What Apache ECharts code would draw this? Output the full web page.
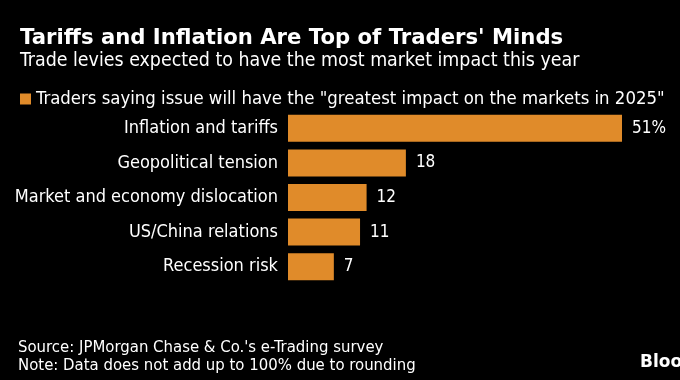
<!DOCTYPE html>
<html><head><meta charset="utf-8">
<script src="https://cdn.jsdelivr.net/npm/echarts@6/dist/echarts.min.js"></script>
<style>html,body{margin:0;padding:0;background:#000;}#c{width:680px;height:380px;}</style>
</head><body><div id="c"></div>
<script>
const categories = ["Inflation and tariffs", "Geopolitical tension", "Market and economy dislocation", "US/China relations", "Recession risk"];
const values = [51, 18, 12, 11, 7];
const seriesName = 'Traders saying issue will have the "greatest impact on the markets in 2025"';
const titleText = "Tariffs and Inflation Are Top of Traders' Minds";
const subtitleText = "Trade levies expected to have the most market impact this year";
const sourceText = "Source: JPMorgan Chase & Co.'s e-Trading survey";
const noteText = "Note: Data does not add up to 100% due to rounding";

const F = "'DejaVu Sans Condensed', 'DejaVu Sans', sans-serif";
const FB = "'DejaVu Sans', sans-serif";
const chart = echarts.init(document.getElementById('c'), null, {renderer:'canvas'});
chart.setOption({
  backgroundColor: '#000',
  animation: false,
  title: [
    {text: titleText, left: 15, top: 23, textStyle: {color:'#fff', fontFamily: FB, fontWeight:'bold', fontSize: 21.2}},
    {text: subtitleText, left: 15, top: 46, textStyle: {color:'#fff', fontFamily: F, fontWeight:'normal', fontSize: 19.4}},
    {text: sourceText + "\n" + noteText, left: 13, top: 334, textStyle: {color:'#fff', fontFamily: F, fontWeight:'normal', fontSize: 16.6, lineHeight: 18}},
    {text: "Bloomberg", left: 635, top: 349, textStyle: {color:'#fff', fontFamily: FB, fontWeight:'bold', fontSize: 17}}
  ],
  legend: {
    data: [seriesName], left: 15, top: 85, icon: 'rect', itemWidth: 11, itemHeight: 11, itemGap: 6,
    textStyle: {color:'#fff', fontFamily: F, fontSize: 18.4}
  },
  grid: {left: 288, right: 58, top: 111, height: 173, containLabel: false},
  xAxis: {type:'value', min: 0, max: 51, show: false},
  yAxis: {type:'category', data: categories, inverse: true,
    axisLine:{show:false}, axisTick:{show:false},
    axisLabel:{color:'#fff', fontFamily: F, fontSize: 18, margin: 10}},
  series: [{
    name: seriesName, type:'bar', data: values, barWidth: 27,
    itemStyle:{color:'#e08b2a'},
    label:{show:true, position:'right', distance: 10, color:'#fff', fontFamily: F, fontSize: 17,
      formatter: p => p.dataIndex === 0 ? p.value + '%' : String(p.value)}
  }]
});
</script></body></html>
